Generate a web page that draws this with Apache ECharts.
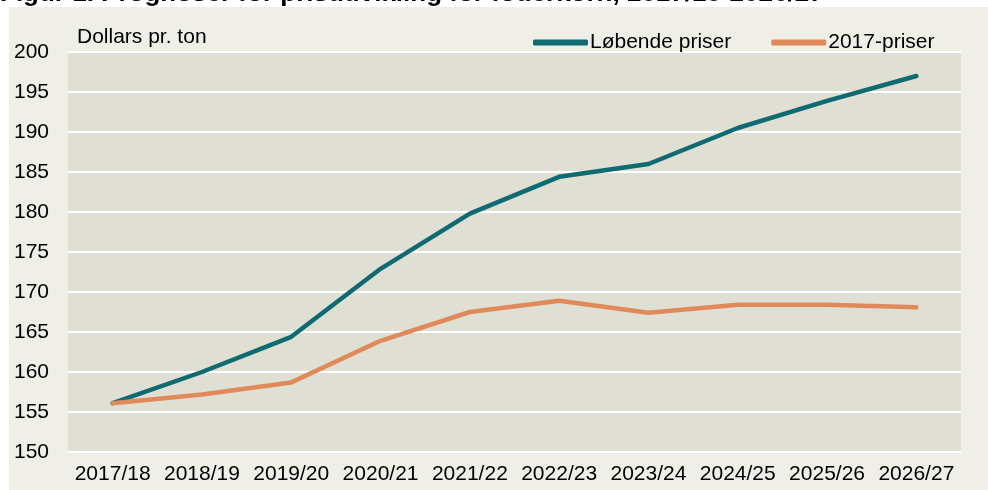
<!DOCTYPE html>
<html>
<head>
<meta charset="utf-8">
<script src="https://cdn.jsdelivr.net/npm/echarts@6/dist/echarts.min.js"></script>
<style>
html,body{margin:0;padding:0;background:#ffffff;}
#chart{width:988px;height:490px;}
</style>
</head>
<body>
<div id="chart"></div>
<script>
const categories = ['2017/18','2018/19','2019/20','2020/21','2021/22','2022/23','2023/24','2024/25','2025/26','2026/27'];
const loebendePriser = [156.1, 160.0, 164.4, 172.9, 179.8, 184.4, 186.0, 190.5, 193.9, 197.0];
const priser2017 = [156.1, 157.2, 158.7, 163.9, 167.5, 168.9, 167.4, 168.4, 168.4, 168.1];
const seriesNames = ['Løbende priser', '2017-priser'];
const titleText = 'Figur 1. Prognoser for prisudvikling for foderkorn, 2017/18-2026/27';
const unitText = 'Dollars pr. ton';

const FONT = '"Liberation Sans", Arial, sans-serif';
const chart = echarts.init(document.getElementById('chart'));
chart.setOption({
  animation: false,
  backgroundColor: '#ffffff',
  textStyle: { fontFamily: FONT },
  graphic: [
    { type: 'text', left: 0, top: -19, z: 1, style: { text: titleText, font: 'bold 26px ' + FONT, fill: '#000' } },
    { type: 'rect', shape: { x: 9, y: 7, width: 979, height: 483 }, style: { fill: '#efefe8' }, z: 2 },
    { type: 'text', left: 77, top: 27, z: 3, style: { text: unitText, font: '21px ' + FONT, fill: '#000' } }
  ],
  legend: {
    data: seriesNames,
    left: 528, top: 27, z: 5,
    itemWidth: 55, itemHeight: 6, itemGap: 40,
    icon: 'roundRect',
    textStyle: { fontSize: 21, color: '#000', fontFamily: FONT, padding: [0,0,0,-3] }
  },
  grid: {
    left: 68, right: 27, top: 52, bottom: 38, z: 4,
    show: true, backgroundColor: '#dfdfd4', borderWidth: 0
  },
  xAxis: {
    type: 'category', data: categories, boundaryGap: true, z: 4,
    axisLine: { show: false }, axisTick: { show: false },
    axisLabel: { fontSize: 21, color: '#000', margin: 12, interval: 0 }
  },
  yAxis: {
    type: 'value', min: 150, max: 200, interval: 5, z: 4,
    axisLine: { show: false }, axisTick: { show: false },
    axisLabel: { fontSize: 21, color: '#000', margin: 19 },
    splitLine: { lineStyle: { color: '#ffffff', width: 2 } }
  },
  series: [
    { name: seriesNames[0], type: 'line', data: loebendePriser, symbol: 'none', z: 6,
      lineStyle: { color: '#0f6a72', width: 4.5, cap: 'round', join: 'round' }, itemStyle: { color: '#0f6a72' } },
    { name: seriesNames[1], type: 'line', data: priser2017, symbol: 'none', z: 6,
      lineStyle: { color: '#e0895a', width: 4.5, cap: 'round', join: 'round' }, itemStyle: { color: '#e0895a' } }
  ]
});
</script>
</body>
</html>
